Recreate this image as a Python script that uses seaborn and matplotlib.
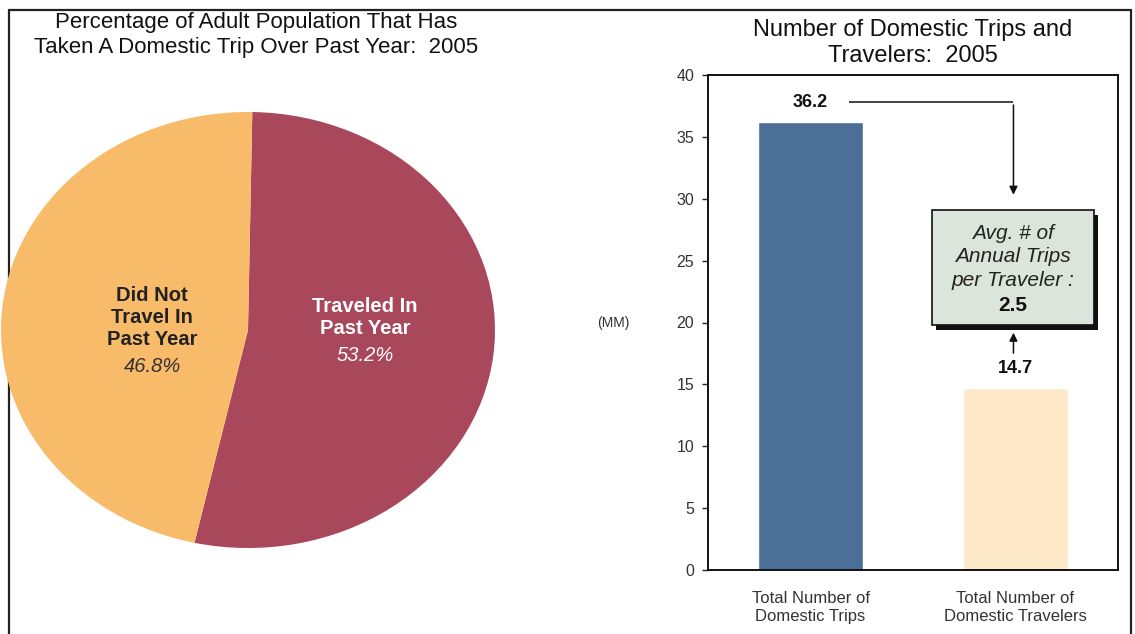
import matplotlib
matplotlib.use("Agg")
import matplotlib.pyplot as plt
from matplotlib.lines import Line2D
from matplotlib.patches import Rectangle
import seaborn as sns
import pandas as pd

# Pie data: share of adults who took a domestic trip in 2005
pie_labels = ["Traveled In\nPast Year", "Did Not\nTravel In\nPast Year"]
pie_values = [53.2, 46.8]
pie_colors = ["#A9485B", "#F8BB6A"]

# Bar data: trips and travelers (millions)
bar_categories = ["Total Number of\nDomestic Trips", "Total Number of\nDomestic Travelers"]
bar_values = [36.2, 14.7]
bar_colors = ["#4B6F97", "#FDE8C8"]
y_ticks = [0, 5, 10, 15, 20, 25, 30, 35, 40]

sns.set_theme(style="white")
plt.rcParams["font.family"] = ["Liberation Sans", "DejaVu Sans"]

W, H = 1135, 634
fig = plt.figure(figsize=(W / 100, H / 100), dpi=100)
fig.patch.set_facecolor("white")


def fx(px):
    return px / W


def fy(py):
    return 1 - py / H


# outer frame
for xs, ys in [((9, 1131), (10, 10)), ((9, 9), (10, 634)), ((1131, 1131), (10, 634))]:
    fig.add_artist(Line2D([fx(xs[0]), fx(xs[1])], [fy(ys[0]), fy(ys[1])],
                          color="#222222", lw=1.6, transform=fig.transFigure, zorder=-1))

# ---------------- Pie ----------------
ax_pie = fig.add_axes([fx(1), fy(548), fx(494), 436 / H])
ax_pie.pie(pie_values, colors=pie_colors, startangle=89, counterclock=False,
           radius=1.0, wedgeprops=dict(linewidth=0))
ax_pie.set_aspect("auto")
ax_pie.set_xlim(-1, 1)
ax_pie.set_ylim(-1, 1)
ax_pie.axis("off")


def pie_xy(px, py):
    # pixel position -> pie data coordinates
    return (px - 248) / 247, (330 - py) / 218


ax_pie.text(*pie_xy(365, 318), pie_labels[0], ha="center", va="center", fontsize=14.5,
            fontweight="bold", color="white", linespacing=1.2)
ax_pie.text(*pie_xy(365, 356), f"{pie_values[0]:.1f}%", ha="center", va="center",
            fontsize=14.5, fontstyle="italic", color="white")
ax_pie.text(*pie_xy(152, 318), pie_labels[1], ha="center", va="center", fontsize=14.5,
            fontweight="bold", color="#222222", linespacing=1.2)
ax_pie.text(*pie_xy(152, 367), f"{pie_values[1]:.1f}%", ha="center", va="center",
            fontsize=14.5, fontstyle="italic", color="#333333")

fig.text(fx(256), fy(35), "Percentage of Adult Population That Has\nTaken A Domestic Trip Over Past Year:  2005",
         ha="center", va="center", fontsize=16, color="#111111", linespacing=1.25)

# ---------------- Bars ----------------
ax = fig.add_axes([fx(708), fy(570), 410 / W, 495 / H])
df = pd.DataFrame({"category": bar_categories, "value": bar_values})
sns.barplot(data=df, x="category", y="value", hue="category", palette=bar_colors,
            legend=False, width=0.51, ax=ax, saturation=1)
ax.set_xlim(-0.5, 1.5)
ax.set_ylim(0, 40)
ax.set_yticks(y_ticks)
ax.set_yticklabels([str(t) for t in y_ticks], fontsize=11.5, color="#333333")
ax.tick_params(axis="y", left=True, length=4, width=1, color="#222222", pad=6)
ax.tick_params(axis="x", bottom=False, labelsize=12, labelcolor="#333333", pad=9)
for lbl in ax.get_xticklabels():
    lbl.set_linespacing(1.25)
ax.set_xlabel("")
ax.set_ylabel("")
for s in ax.spines.values():
    s.set_visible(True)
    s.set_color("#111111")
    s.set_linewidth(1.4)

fig.text(fx(613), fy(323), "(MM)", ha="center", va="center", fontsize=10, color="#333333")
fig.text(fx(913), fy(43), "Number of Domestic Trips and\nTravelers:  2005",
         ha="center", va="center", fontsize=17, color="#111111", linespacing=1.2)

# value labels
ax.text(0, bar_values[0] + 1.6, f"{bar_values[0]:.1f}", ha="center", va="center",
        fontsize=13, fontweight="bold", color="#111111")
ax.text(1, bar_values[1] + 1.6, f"{bar_values[1]:.1f}", ha="center", va="center",
        fontsize=13, fontweight="bold", color="#111111")

# connector from the trips label to the ratio box
line_y = bar_values[0] + 1.6
ax.plot([0.19, 0.99], [line_y, line_y], color="#111111", lw=1.1, solid_capstyle="butt")
ax.annotate("", xy=(0.99, 30.1), xytext=(0.99, line_y),
            arrowprops=dict(arrowstyle="-|>", color="#111111", lw=1.1, mutation_scale=12))
ax.annotate("", xy=(0.99, 19.4), xytext=(0.99, 17.3),
            arrowprops=dict(arrowstyle="-|>", color="#111111", lw=1.1, mutation_scale=12))

# ratio box with drop shadow
ratio = bar_values[0] / bar_values[1]
bx0, bx1, by0, by1 = 0.593, 1.383, 19.8, 29.1
ax.add_patch(Rectangle((bx0 + 0.02, by0 - 0.4), bx1 - bx0, by1 - by0,
                       facecolor="#111111", edgecolor="none", zorder=4))
ax.add_patch(Rectangle((bx0, by0), bx1 - bx0, by1 - by0,
                       facecolor="#DCE5DB", edgecolor="#111111", lw=1.2, zorder=5))
ax.text((bx0 + bx1) / 2, 25.3, "Avg. # of\nAnnual Trips\nper Traveler :", ha="center",
        va="center", fontsize=15, fontstyle="italic", color="#222222", zorder=6,
        linespacing=1.3)
ax.text((bx0 + bx1) / 2, 21.4, f"{ratio:.1f}", ha="center", va="center", fontsize=15,
        fontweight="bold", color="#111111", zorder=6)

fig.savefig("out.png", dpi=100, facecolor="white")
